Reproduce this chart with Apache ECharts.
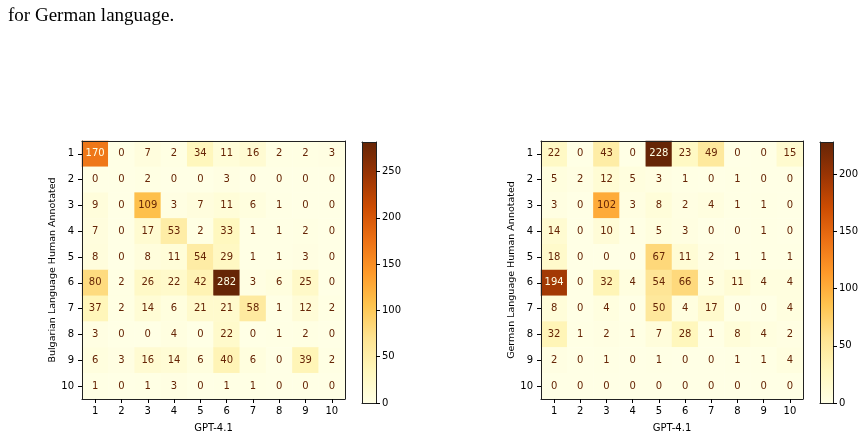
<!DOCTYPE html>
<html>
<head>
<meta charset="utf-8">
<script src="https://cdn.jsdelivr.net/npm/echarts@6/dist/echarts.min.js"></script>
<style>
html,body{margin:0;padding:0;background:#fff;}
#chart{width:865px;height:438px;}
</style>
</head>
<body>
<div id="chart"></div>
<script>
// ---- data ----
const categories = ['1','2','3','4','5','6','7','8','9','10'];
const bulgarian = [
  [170,0,7,2,34,11,16,2,2,3],
  [0,0,2,0,0,3,0,0,0,0],
  [9,0,109,3,7,11,6,1,0,0],
  [7,0,17,53,2,33,1,1,2,0],
  [8,0,8,11,54,29,1,1,3,0],
  [80,2,26,22,42,282,3,6,25,0],
  [37,2,14,6,21,21,58,1,12,2],
  [3,0,0,4,0,22,0,1,2,0],
  [6,3,16,14,6,40,6,0,39,2],
  [1,0,1,3,0,1,1,0,0,0]
];
const german = [
  [22,0,43,0,228,23,49,0,0,15],
  [5,2,12,5,3,1,0,1,0,0],
  [3,0,102,3,8,2,4,1,1,0],
  [14,0,10,1,5,3,0,0,1,0],
  [18,0,0,0,67,11,2,1,1,1],
  [194,0,32,4,54,66,5,11,4,4],
  [8,0,4,0,50,4,17,0,0,4],
  [32,1,2,1,7,28,1,8,4,2],
  [2,0,1,0,1,0,0,1,1,4],
  [0,0,0,0,0,0,0,0,0,0]
];
const leftTicks = [0,50,100,150,200,250];
const rightTicks = [0,50,100,150,200];
const xLabel = 'GPT-4.1';
const leftYLabel = 'Bulgarian Language Human Annotated';
const rightYLabel = 'German Language Human Annotated';
const caption = 'for German language.';

// ---- style ----
const cmap = ['#ffffe5','#fff7bc','#fee391','#fec44f','#fe9929','#ec7014','#cc4c02','#993404','#662506'];
const FONT = 'DejaVu Sans';
const FRAME = '#222';
const AZ = 10;

function maxOf(m){ return Math.max(...m.map(r => Math.max(...r))); }
const bMax = maxOf(bulgarian), gMax = maxOf(german);

function toData(m, vmax){
  const out = [];
  m.forEach((row, yi) => row.forEach((v, xi) => {
    out.push({value:[xi, yi, v], label:{color: v >= vmax/2 ? cmap[0] : cmap[8]}});
  }));
  return out;
}

const grids = [
  {left:82, top:141, width:263, height:262},
  {left:362, top:142, width:14, height:261},
  {left:541, top:141, width:262, height:262},
  {left:820, top:142, width:13, height:261}
];

function heatX(gi){
  return {type:'category', gridIndex:gi, data:categories, position:'bottom', z:AZ,
    axisLine:{show:true, onZero:false, lineStyle:{color:FRAME}},
    axisTick:{show:true, alignWithLabel:true, length:4, lineStyle:{color:'#000'}},
    axisLabel:{fontFamily:FONT, fontSize:10, color:'#000', margin:7},
    splitLine:{show:false},
    name:xLabel, nameLocation:'middle', nameGap:24,
    nameTextStyle:{fontFamily:FONT, fontSize:10, color:'#000'}};
}
function heatY(gi, name){
  return {type:'category', gridIndex:gi, data:categories, inverse:true, position:'left', z:AZ,
    axisLine:{show:true, onZero:false, lineStyle:{color:FRAME}},
    axisTick:{show:true, alignWithLabel:true, length:4, lineStyle:{color:'#000'}},
    axisLabel:{fontFamily:FONT, fontSize:10, color:'#000', margin:8},
    splitLine:{show:false},
    name:name, nameLocation:'middle', nameGap:21, nameRotate:90,
    nameTextStyle:{fontFamily:FONT, fontSize:9.5, color:'#000'}};
}
function frameX(gi){
  return {type:'category', gridIndex:gi, data:categories, position:'top', z:AZ,
    axisLine:{show:true, onZero:false, lineStyle:{color:FRAME}}, axisTick:{show:false}, axisLabel:{show:false}, splitLine:{show:false}};
}
function frameY(gi){
  return {type:'category', gridIndex:gi, data:categories, position:'right', z:AZ,
    axisLine:{show:true, onZero:false, lineStyle:{color:FRAME}}, axisTick:{show:false}, axisLabel:{show:false}, splitLine:{show:false}};
}
function cbX(gi, pos){
  return {type:'category', gridIndex:gi, data:['c'], position:pos, z:AZ,
    axisLine:{show:true, onZero:false, lineStyle:{color:FRAME}}, axisTick:{show:false}, axisLabel:{show:false}, splitLine:{show:false}};
}
function cbY(gi, vmax, ticks){
  return {type:'value', gridIndex:gi, min:0, max:vmax, position:'right', z:AZ,
    axisLine:{show:true, onZero:false, lineStyle:{color:FRAME}},
    axisTick:{show:true, length:4, lineStyle:{color:'#000'}, customValues:ticks},
    axisLabel:{fontFamily:FONT, fontSize:10, color:'#000', margin:6, customValues:ticks},
    splitLine:{show:false}};
}
function cbYLeft(gi, vmax){
  return {type:'value', gridIndex:gi, min:0, max:vmax, position:'left', z:AZ,
    axisLine:{show:true, onZero:false, lineStyle:{color:FRAME}}, axisTick:{show:false}, axisLabel:{show:false}, splitLine:{show:false}};
}
function gradient(){
  return new echarts.graphic.LinearGradient(0,1,0,0,
    cmap.map((c,i) => ({offset:i/(cmap.length-1), color:c})));
}
const heatLabel = {show:true, fontFamily:FONT, fontSize:10};

const option = {
  backgroundColor:'#fff',
  animation:false,
  grid: grids.map(g => Object.assign({show:false}, g)),
  xAxis:[heatX(0), cbX(1,'bottom'), heatX(2), cbX(3,'bottom'),
         frameX(0), cbX(1,'top'), frameX(2), cbX(3,'top')],
  yAxis:[heatY(0, leftYLabel), cbY(1, bMax, leftTicks), heatY(2, rightYLabel), cbY(3, gMax, rightTicks),
         frameY(0), cbYLeft(1, bMax), frameY(2), cbYLeft(3, gMax)],
  visualMap:[
    {type:'continuous', show:false, seriesIndex:0, dimension:2, min:0, max:bMax, inRange:{color:cmap}},
    {type:'continuous', show:false, seriesIndex:2, dimension:2, min:0, max:gMax, inRange:{color:cmap}}
  ],
  series:[
    {type:'heatmap', xAxisIndex:0, yAxisIndex:0, data:toData(bulgarian, bMax), label:heatLabel, emphasis:{disabled:true}, z:1},
    {type:'bar', xAxisIndex:1, yAxisIndex:1, data:[bMax], barWidth:'100%', itemStyle:{color:gradient()}, silent:true, z:1},
    {type:'heatmap', xAxisIndex:2, yAxisIndex:2, data:toData(german, gMax), label:heatLabel, emphasis:{disabled:true}, z:1},
    {type:'bar', xAxisIndex:3, yAxisIndex:3, data:[gMax], barWidth:'100%', itemStyle:{color:gradient()}, silent:true, z:1}
  ],
  graphic:[
    {type:'text', left:8, top:7, style:{text:caption, font:'19px "Liberation Serif"', fill:'#000'}}
  ]
};

const chart = echarts.init(document.getElementById('chart'), null, {renderer:'canvas'});
chart.setOption(option);
</script>
</body>
</html>
